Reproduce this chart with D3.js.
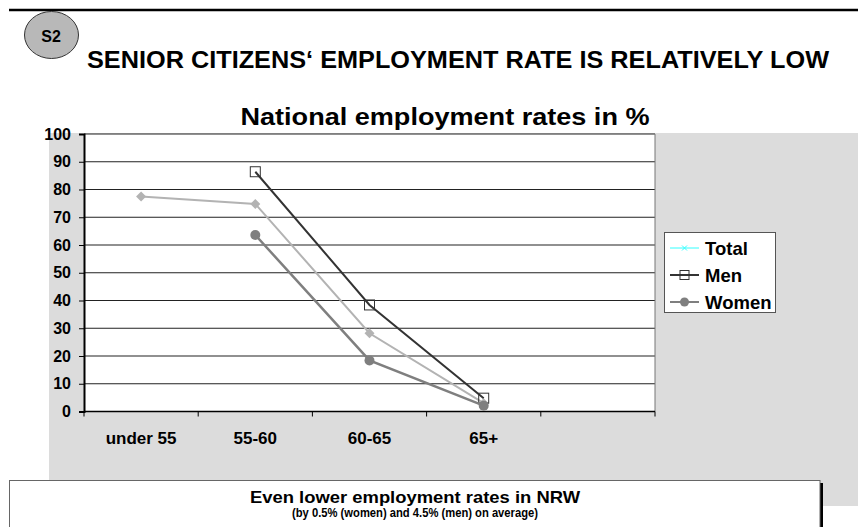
<!DOCTYPE html>
<html>
<head>
<meta charset="utf-8">
<script src="https://cdn.jsdelivr.net/npm/d3@7/dist/d3.min.js"></script>
<style>
  html, body { margin: 0; padding: 0; background: #fff; }
  svg { display: block; font-family: "Liberation Sans", Arial, sans-serif; }
</style>
</head>
<body>
<svg id="chart" width="858" height="527"></svg>
<script>
// Age groups (the last slot is left empty on the axis)
const categories = ["under 55", "55-60", "60-65", "65+", ""];
const yTicks = [0, 10, 20, 30, 40, 50, 60, 70, 80, 90, 100];

// Employment rates in %
const totalRates = [77.5, 74.8, 28.2, 3.0, null];
const menRates   = [null, 86.4, 38.4, 4.8, null];
const womenRates = [null, 63.6, 18.4, 2.1, null];

const seriesNames = ["Total", "Men", "Women"];

const svg = d3.select("#chart");

// Header rule
svg.append("line").attr("x1", 9).attr("x2", 858).attr("y1", 10).attr("y2", 10)
  .attr("stroke", "#000").attr("stroke-width", 2.5);

// Section badge
svg.append("ellipse").attr("cx", 51.5).attr("cy", 35).attr("rx", 27).attr("ry", 23.5)
  .attr("fill", "#b8b8b8").attr("stroke", "#333").attr("stroke-width", 1);
svg.append("text").attr("x", 51).attr("y", 41.5).attr("text-anchor", "middle")
  .attr("font-weight", "bold").attr("font-size", 16).text("S2");

svg.append("text").attr("x", 87).attr("y", 67.5)
  .attr("font-weight", "bold").attr("font-size", 23.5)
  .attr("textLength", 742).attr("lengthAdjust", "spacingAndGlyphs")
  .text("SENIOR CITIZENS\u2018 EMPLOYMENT RATE IS RELATIVELY LOW");

// Chart panel
svg.append("rect").attr("x", 49).attr("y", 133).attr("width", 809).attr("height", 373)
  .attr("fill", "#dcdcdc");

const plot = { left: 84, right: 655, top: 134, bottom: 411.5 };

svg.append("rect").attr("x", plot.left).attr("y", plot.top)
  .attr("width", plot.right - plot.left).attr("height", plot.bottom - plot.top)
  .attr("fill", "#fff");

const x = d3.scaleBand().domain(categories).range([plot.left, plot.right]).paddingInner(0).paddingOuter(0);
const y = d3.scaleLinear().domain([0, 100]).range([plot.bottom, plot.top]);
const cx = c => x(c) + x.bandwidth() / 2;

// Horizontal gridlines
svg.append("g").selectAll("line").data(yTicks.filter(t => t > 0)).join("line")
  .attr("x1", plot.left).attr("x2", plot.right)
  .attr("y1", d => y(d)).attr("y2", d => y(d))
  .attr("stroke", "#222").attr("stroke-width", 1.2);

// Right plot edge
svg.append("line").attr("x1", plot.right).attr("x2", plot.right)
  .attr("y1", plot.top).attr("y2", plot.bottom).attr("stroke", "#777").attr("stroke-width", 1);

// Y axis
const yAxis = svg.append("g").attr("transform", `translate(${plot.left},0)`)
  .call(d3.axisLeft(y).tickValues(yTicks).tickSize(5).tickPadding(8).tickFormat(d3.format("d")));
yAxis.select(".domain").attr("stroke", "#000").attr("stroke-width", 2);
yAxis.selectAll(".tick line").attr("stroke", "#000");
yAxis.selectAll(".tick text").attr("font-size", 16).attr("font-weight", "bold")
  .attr("font-family", "Liberation Sans, Arial, sans-serif").attr("fill", "#000");

// X axis: ticks on category boundaries
const xAxisG = svg.append("g");
xAxisG.append("line").attr("x1", plot.left).attr("x2", plot.right)
  .attr("y1", plot.bottom).attr("y2", plot.bottom).attr("stroke", "#000").attr("stroke-width", 1.5);
const boundaries = categories.map(c => x(c)).concat([x(categories[categories.length - 1]) + x.bandwidth()]);
xAxisG.selectAll("line.tk").data(boundaries).join("line").attr("class", "tk")
  .attr("x1", d => d).attr("x2", d => d)
  .attr("y1", plot.bottom).attr("y2", plot.bottom + 5)
  .attr("stroke", "#000").attr("stroke-width", 1);
xAxisG.selectAll("text").data(categories.filter(c => c !== "")).join("text")
  .attr("x", d => cx(d)).attr("y", 444).attr("text-anchor", "middle")
  .attr("font-size", 17).attr("font-weight", "bold").text(d => d);

// Chart title
svg.append("text").attr("x", 445).attr("y", 125).attr("text-anchor", "middle")
  .attr("font-size", 24).attr("font-weight", "bold")
  .attr("textLength", 409).attr("lengthAdjust", "spacingAndGlyphs")
  .text("National employment rates in %");

// Series
const series = [
  { name: "Total", values: totalRates, color: "#b3b3b3", width: 2, marker: "diamond" },
  { name: "Men", values: menRates, color: "#333", width: 2, marker: "square" },
  { name: "Women", values: womenRates, color: "#7f7f7f", width: 2.5, marker: "circle" }
];

const line = d3.line()
  .defined(d => d.v !== null)
  .x(d => cx(d.c)).y(d => y(d.v));

series.forEach(s => {
  const pts = categories.map((c, i) => ({ c, v: s.values[i] }));
  svg.append("path").datum(pts).attr("d", line)
    .attr("fill", "none").attr("stroke", s.color).attr("stroke-width", s.width);
  const g = svg.append("g");
  const valid = pts.filter(d => d.v !== null);
  if (s.marker === "diamond") {
    g.selectAll("path").data(valid).join("path")
      .attr("d", d3.symbol(d3.symbolDiamond2, 64)())
      .attr("transform", d => `translate(${cx(d.c)},${y(d.v)})`)
      .attr("fill", s.color);
  } else if (s.marker === "square") {
    g.selectAll("rect").data(valid).join("rect")
      .attr("x", d => cx(d.c) - 5).attr("y", d => y(d.v) - 5)
      .attr("width", 10).attr("height", 10)
      .attr("fill", "none").attr("stroke", s.color).attr("stroke-width", 1);
  } else {
    g.selectAll("circle").data(valid).join("circle")
      .attr("cx", d => cx(d.c)).attr("cy", d => y(d.v)).attr("r", 5)
      .attr("fill", s.color);
  }
});

// Legend
const legend = svg.append("g");
legend.append("rect").attr("x", 664.5).attr("y", 232.5).attr("width", 111).attr("height", 80)
  .attr("fill", "#fff").attr("stroke", "#555").attr("stroke-width", 1);
const legendStyle = [
  { color: "#33ffff", width: 1, marker: "x" },
  { color: "#333", width: 2, marker: "square" },
  { color: "#7f7f7f", width: 2, marker: "circle" }
];
seriesNames.forEach((name, i) => {
  const ly = 248 + i * 27;
  const st = legendStyle[i];
  legend.append("line").attr("x1", 670).attr("x2", 699).attr("y1", ly).attr("y2", ly)
    .attr("stroke", st.color).attr("stroke-width", st.width);
  if (st.marker === "x") {
    legend.append("path").attr("d", `M${682},${ly - 2.5}L${687},${ly + 2.5}M${682},${ly + 2.5}L${687},${ly - 2.5}`)
      .attr("stroke", st.color).attr("stroke-width", 1);
  } else if (st.marker === "square") {
    legend.append("rect").attr("x", 680).attr("y", ly - 4.5).attr("width", 9).attr("height", 9)
      .attr("fill", "none").attr("stroke", st.color).attr("stroke-width", 1);
  } else {
    legend.append("circle").attr("cx", 684.5).attr("cy", ly).attr("r", 4.5).attr("fill", st.color);
  }
  legend.append("text").attr("x", 705).attr("y", ly + 6.5)
    .attr("font-size", 18.5).attr("font-weight", "bold").text(name);
});

// Note box
svg.append("rect").attr("x", 820).attr("y", 483).attr("width", 3).attr("height", 50).attr("fill", "#000");
svg.append("rect").attr("x", 9.5).attr("y", 480.5).attr("width", 810.5).attr("height", 60)
  .attr("fill", "#fff").attr("stroke", "#666").attr("stroke-width", 1);
svg.append("text").attr("x", 415).attr("y", 503).attr("text-anchor", "middle")
  .attr("font-size", 16.5).attr("font-weight", "bold")
  .attr("textLength", 330).attr("lengthAdjust", "spacingAndGlyphs")
  .text("Even lower employment rates in NRW");
svg.append("text").attr("x", 415).attr("y", 517).attr("text-anchor", "middle")
  .attr("font-size", 12).attr("font-weight", "bold")
  .attr("textLength", 246).attr("lengthAdjust", "spacingAndGlyphs")
  .text("(by 0.5% (women) and 4.5% (men) on average)");
</script>
</body>
</html>
